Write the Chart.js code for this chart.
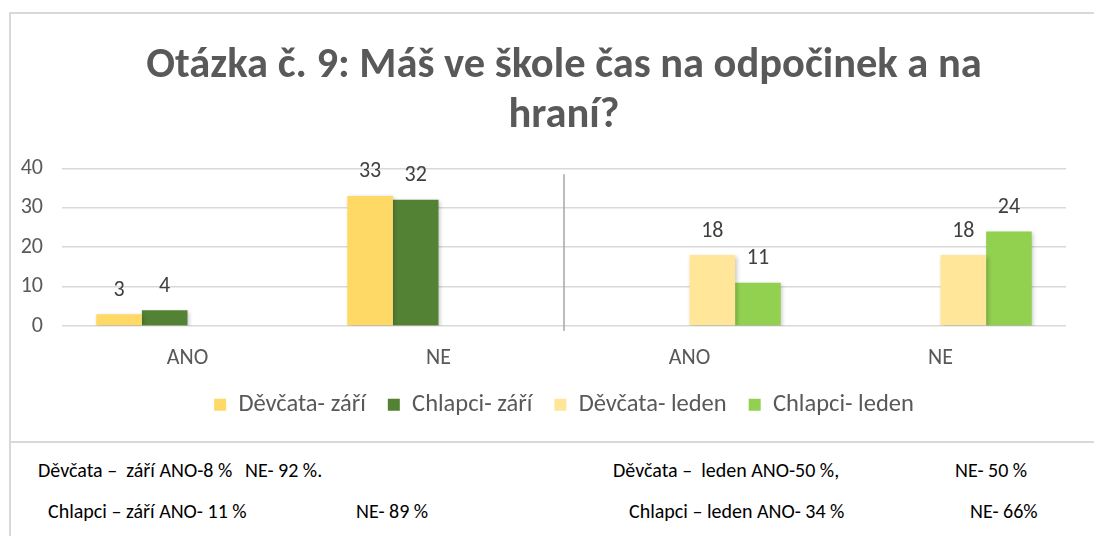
<!DOCTYPE html>
<html>
<head>
<meta charset="utf-8">
<script src="https://cdn.jsdelivr.net/npm/chart.js@4.4.1/dist/chart.umd.min.js"></script>
<style>
    html, body { margin: 0; padding: 0; background: #fff; }
    body { width: 1094px; height: 536px; position: relative; overflow: hidden; font-family: Carlito, Lato, sans-serif; }
    #frame { position: absolute; left: 9px; top: 12px; width: 1200px; height: 427px; border: 2px solid #d9d9d9; }
    #sideLine { position: absolute; left: 9px; top: 440px; width: 2px; height: 100px; background: #d9d9d9; }
    #wrap { position: absolute; left: 0; top: 0; width: 1094px; height: 440px; }
    .note { position: absolute; font-size: 20px; color: #000; white-space: pre; line-height: 1; }
</style>
</head>
<body>
<div id="frame"></div>
<div id="sideLine"></div>
<div id="wrap"><canvas id="chart" width="1094" height="440"></canvas></div>

<span class="note" style="left:38px; top:460px;">Děvčata –  září ANO-8 %</span>
<span class="note" style="left:245px; top:460px;">NE- 92 %.</span>
<span class="note" style="left:613px; top:460px;">Děvčata –  leden ANO-50 %,</span>
<span class="note" style="left:955px; top:460px;">NE- 50 %</span>
<span class="note" style="left:48px; top:501px;">Chlapci – září ANO- 11 %</span>
<span class="note" style="left:356px; top:501px;">NE- 89 %</span>
<span class="note" style="left:629px; top:501px;">Chlapci – leden ANO- 34 %</span>
<span class="note" style="left:970px; top:501px;">NE- 66%</span>

<script>
const categories = ["ANO", "NE", "ANO", "NE"];
const divcataZari = [3, 33, null, null];
const chlapciZari = [4, 32, null, null];
const divcataLeden = [null, null, 18, 18];
const chlapciLeden = [null, null, 11, 24];
const yTicks = [0, 10, 20, 30, 40];

const FONT = "Carlito, Lato, sans-serif";
const GREY = '#595959';

// value labels above each bar
const barLabels = {
    id: 'barLabels',
    afterDatasetsDraw(chart) {
        const ctx = chart.ctx;
        ctx.save();
        ctx.font = `22px ${FONT}`;
        ctx.fillStyle = '#404040';
        ctx.textAlign = 'center';
        ctx.textBaseline = 'middle';
        chart.data.datasets.forEach((ds, i) => {
            chart.getDatasetMeta(i).data.forEach((bar, j) => {
                const v = ds.data[j];
                if (v === null || v === undefined) return;
                ctx.fillText(String(v), bar.x, bar.y - 24);
            });
        });
        ctx.restore();
    }
};

// thin line between the two surveys
const separator = {
    id: 'separator',
    beforeDatasetsDraw(chart) {
        const x = chart.scales.x;
        const area = chart.chartArea;
        const px = (x.getPixelForValue(1) + x.getPixelForValue(2)) / 2;
        const ctx = chart.ctx;
        ctx.save();
        ctx.strokeStyle = '#a6a6a6';
        ctx.lineWidth = 1.5;
        ctx.beginPath();
        ctx.moveTo(px, area.top + 6);
        ctx.lineTo(px, area.bottom + 5);
        ctx.stroke();
        ctx.restore();
    }
};

// soft shadow like the office chart
const barShadow = {
    id: 'barShadow',
    beforeDatasetDraw(chart) {
        const ctx = chart.ctx;
        ctx.save();
        ctx.shadowColor = 'rgba(0,0,0,0.22)';
        ctx.shadowBlur = 4;
        ctx.shadowOffsetX = 1.5;
        ctx.shadowOffsetY = 1.5;
    },
    afterDatasetDraw(chart) {
        chart.ctx.restore();
    }
};

new Chart(document.getElementById('chart'), {
    type: 'bar',
    data: {
        labels: categories,
        datasets: [
            { label: 'Děvčata- září', data: divcataZari, backgroundColor: '#FFD966' },
            { label: 'Chlapci- září', data: chlapciZari, backgroundColor: '#548235' },
            { label: 'Děvčata- leden', data: divcataLeden, backgroundColor: '#FFE699' },
            { label: 'Chlapci- leden', data: chlapciLeden, backgroundColor: '#92D050' }
        ]
    },
    options: {
        responsive: false,
        animation: false,
        devicePixelRatio: 1,
        layout: { padding: { left: 14, right: 28, top: 14, bottom: 13 } },
        datasets: {
            bar: { categoryPercentage: 0.727, barPercentage: 1.0, borderWidth: 0 }
        },
        scales: {
            x: {
                grid: { display: false, drawTicks: false },
                border: { display: false },
                ticks: { color: GREY, font: { size: 22, family: FONT }, padding: 19 },
                afterFit(axis) { axis.height -= 20; }
            },
            y: {
                min: 0,
                max: 40,
                afterBuildTicks(axis) { axis.ticks = yTicks.map(v => ({ value: v })); },
                afterFit(axis) { axis.width = 48; },
                grid: { color: '#d9d9d9', lineWidth: 1.5, drawTicks: false },
                border: { display: false },
                ticks: { color: GREY, font: { size: 22, family: FONT }, padding: 19 }
            }
        },
        plugins: {
            title: {
                display: true,
                fullSize: false,
                text: ['Otázka č. 9: Máš ve škole čas na odpočinek a na', 'hraní?'],
                color: GREY,
                font: { size: 42.5, weight: 'bold', family: FONT, lineHeight: 1.18 },
                padding: { top: 27, bottom: 27 }
            },
            legend: {
                position: 'bottom',
                fullSize: false,
                labels: {
                    color: GREY,
                    font: { size: 24.5, family: FONT },
                    boxWidth: 12,
                    boxHeight: 12,
                    padding: 22
                }
            },
            tooltip: { enabled: false }
        }
    },
    plugins: [barLabels, separator, barShadow]
});
</script>
</body>
</html>
